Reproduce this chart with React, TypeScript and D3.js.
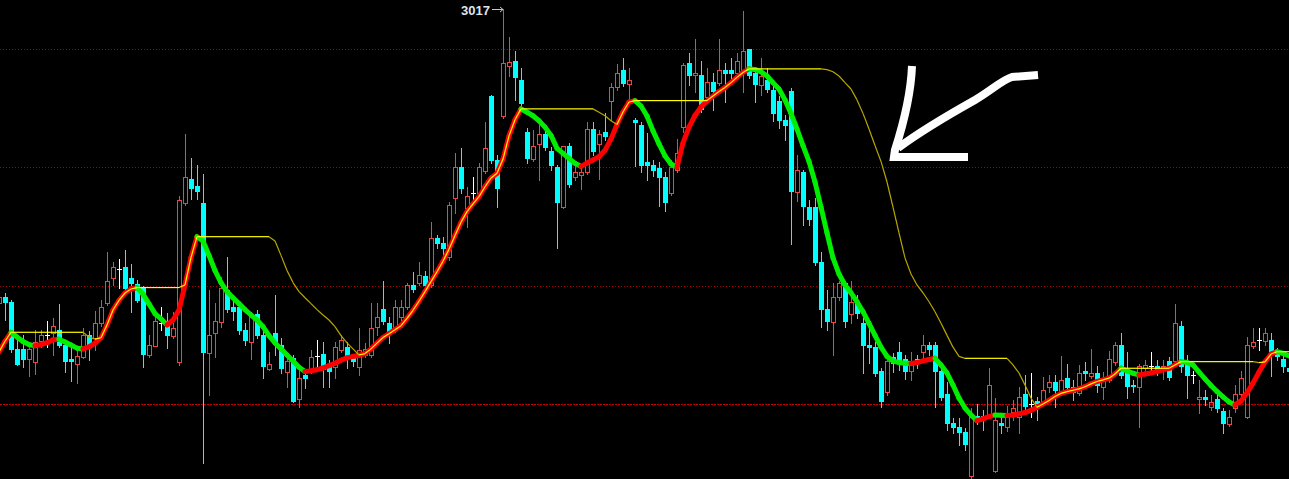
import React from "react";
import * as d3 from "d3";

const W = 1289;
const H = 479;

// OHLC prices per bar (oldest -> newest)
const opens = [2892.7,2895.2,2893.1,2873.2,2873.2,2869.0,2867.8,2876.6,2879.2,2880.0,2881.3,2874.9,2869.0,2866.9,2869.9,2879.2,2877.9,2884.2,2892.7,2903.2,2907.1,2907.9,2903.2,2900.7,2899.0,2870.7,2874.5,2884.2,2885.1,2878.7,2867.8,2934.9,2945.1,2942.1,2934.9,2871.6,2880.0,2884.7,2898.2,2891.0,2891.0,2881.3,2876.2,2888.0,2879.2,2864.8,2880.0,2874.9,2863.5,2869.4,2852.1,2862.3,2864.0,2870.3,2871.1,2865.6,2865.6,2872.8,2874.1,2869.4,2865.6,2870.7,2870.7,2882.5,2890.2,2884.2,2881.3,2886.8,2891.0,2900.3,2901.1,2904.1,2900.3,2920.2,2918.0,2912.1,2937.0,2950.1,2932.8,2939.2,2939.2,2948.5,2980.1,2953.1,2971.7,2992.8,2994.9,2986.9,2964.9,2953.5,2959.9,2964.1,2956.9,2950.1,2933.2,2959.0,2945.9,2946.8,2948.0,2966.2,2959.9,2964.9,2978.0,2983.9,2991.1,2985.2,2970.0,2967.9,2952.3,2951.0,2949.7,2945.9,2939.2,2948.9,2967.0,2994.1,2989.0,2989.0,2979.7,2986.1,2985.6,2991.1,2991.1,2989.9,2991.1,3000.0,2989.9,2984.8,2986.9,2982.7,2978.0,2970.0,2982.3,2939.6,2948.0,2933.2,2933.2,2910.0,2890.2,2884.7,2895.2,2901.1,2888.0,2893.1,2884.2,2874.9,2874.1,2864.0,2855.1,2869.9,2872.0,2869.0,2864.0,2869.0,2872.0,2874.9,2874.9,2864.0,2854.2,2842.0,2840.3,2838.2,2819.6,2844.9,2844.9,2845.4,2821.7,2842.0,2840.3,2846.6,2844.5,2854.2,2850.0,2851.3,2850.4,2857.2,2859.3,2855.5,2861.0,2857.2,2854.7,2864.0,2861.8,2863.1,2857.2,2860.2,2867.8,2874.9,2863.5,2858.0,2857.2,2865.2,2866.1,2866.1,2865.2,2868.2,2868.2,2883.0,2867.8,2862.3,2852.1,2853.0,2848.7,2852.1,2847.1,2841.6,2848.3,2854.2,2844.5,2874.5,2877.1,2876.6,2877.1,2872.0,2869.0,2865.2];
const highs = [2896.1,2896.9,2894.0,2878.3,2879.2,2875.8,2881.3,2881.3,2885.1,2886.3,2892.3,2877.1,2873.7,2874.1,2882.1,2880.9,2889.3,2894.0,2914.2,2910.0,2911.3,2915.1,2909.2,2902.4,2899.9,2879.2,2887.6,2891.0,2888.5,2888.9,2937.9,2964.1,2953.9,2951.0,2947.2,2898.2,2892.7,2903.7,2912.1,2894.8,2893.1,2884.2,2888.9,2889.7,2881.3,2872.0,2896.1,2877.9,2870.7,2870.7,2864.4,2864.4,2872.8,2877.1,2876.2,2868.6,2876.2,2879.2,2876.2,2871.1,2882.1,2875.8,2892.7,2892.7,2902.0,2886.8,2894.0,2894.0,2901.1,2905.8,2910.0,2906.2,2926.9,2921.4,2920.6,2935.4,2956.1,2958.2,2941.7,2945.9,2951.8,2969.2,2980.6,2955.2,3017.0,3005.1,2999.2,2992.0,2966.6,2965.8,2969.2,2966.6,2958.6,2951.0,2959.0,2960.3,2951.0,2949.7,2969.2,2969.2,2965.8,2973.0,2985.6,2993.7,2996.2,2992.0,2970.8,2969.2,2964.5,2953.1,2952.3,2948.0,2953.1,2962.0,2994.1,2998.3,3004.2,2994.9,2992.0,2989.9,3004.2,2994.1,2996.2,2998.3,3016.1,3000.0,2991.1,2996.2,2992.0,2984.4,2980.1,2972.1,2983.5,2955.2,2948.9,2936.2,2937.0,2914.2,2898.2,2901.1,2902.0,2902.0,2902.0,2896.1,2886.3,2882.1,2876.2,2865.2,2868.6,2871.6,2876.2,2870.7,2872.0,2870.7,2879.2,2876.2,2876.2,2865.2,2859.3,2844.1,2844.1,2839.9,2848.3,2850.0,2847.5,2865.2,2852.5,2845.8,2849.2,2851.7,2857.2,2862.3,2863.1,2853.0,2861.4,2862.3,2862.3,2870.3,2866.9,2860.2,2866.5,2867.8,2873.2,2866.1,2863.5,2872.4,2876.2,2880.0,2872.0,2860.2,2866.9,2868.6,2872.0,2868.6,2868.6,2869.9,2892.3,2885.1,2870.7,2864.0,2860.2,2855.9,2853.8,2854.7,2848.3,2847.5,2858.0,2864.0,2878.3,2882.1,2882.1,2882.1,2880.0,2873.7,2870.7,2866.5];
const lows = [2892.3,2885.5,2872.0,2866.5,2865.6,2861.8,2862.7,2874.1,2874.1,2870.7,2874.1,2863.5,2859.7,2858.9,2869.4,2868.6,2872.8,2883.0,2891.8,2900.3,2899.0,2898.2,2888.9,2893.1,2865.6,2869.9,2874.5,2881.3,2873.7,2877.9,2866.5,2934.1,2936.6,2936.6,2825.1,2853.8,2869.9,2882.5,2888.9,2885.5,2879.6,2874.9,2869.0,2877.9,2861.0,2864.4,2870.7,2863.1,2857.2,2850.9,2848.7,2856.8,2863.1,2864.4,2857.2,2857.2,2861.0,2872.0,2865.2,2866.1,2862.3,2869.9,2869.9,2879.2,2883.8,2875.8,2880.4,2885.5,2890.2,2897.3,2900.3,2899.0,2899.4,2915.9,2913.0,2910.9,2930.7,2939.2,2924.8,2936.6,2938.3,2947.6,2951.8,2933.2,2970.8,2988.6,2978.5,2975.9,2951.8,2952.7,2944.7,2957.3,2948.9,2915.9,2932.8,2941.7,2944.7,2940.9,2947.2,2955.2,2945.1,2961.6,2970.0,2982.7,2984.4,2978.5,2950.6,2948.0,2944.7,2946.3,2933.7,2931.6,2938.3,2948.0,2964.9,2984.8,2981.8,2973.4,2978.5,2974.2,2984.8,2977.6,2986.9,2988.6,2981.8,2987.7,2977.6,2980.6,2981.8,2969.6,2966.6,2961.6,2917.6,2935.8,2925.6,2925.6,2908.7,2882.5,2881.3,2870.7,2894.0,2882.5,2884.2,2886.3,2863.1,2867.3,2861.8,2848.7,2853.8,2863.5,2864.4,2860.6,2860.2,2865.2,2867.8,2870.7,2848.7,2851.7,2839.0,2837.8,2832.7,2830.6,2818.3,2841.6,2839.0,2844.1,2821.3,2837.8,2838.6,2843.3,2837.8,2847.9,2844.5,2843.3,2849.6,2855.1,2848.7,2853.8,2855.1,2851.7,2853.8,2860.2,2861.0,2855.1,2852.1,2859.3,2866.5,2861.0,2852.5,2855.1,2840.3,2863.5,2864.0,2862.3,2860.6,2860.2,2867.3,2863.5,2852.5,2858.9,2846.2,2849.6,2847.5,2846.6,2837.8,2840.7,2846.6,2853.4,2844.1,2873.7,2872.8,2874.9,2861.8,2868.6,2863.5,2861.8];
const closes = [2895.2,2892.7,2872.8,2866.5,2868.6,2873.2,2876.2,2879.2,2879.2,2883.0,2874.5,2867.8,2867.8,2870.3,2879.2,2874.5,2884.2,2891.0,2902.0,2907.9,2907.1,2898.6,2900.7,2893.5,2870.7,2874.9,2885.1,2884.2,2878.7,2882.1,2936.2,2945.9,2940.9,2939.6,2871.6,2879.2,2885.1,2899.0,2889.7,2888.9,2880.9,2876.6,2888.0,2878.7,2865.6,2866.9,2874.9,2864.8,2868.2,2850.9,2861.0,2860.6,2869.9,2870.3,2864.4,2863.5,2874.1,2877.1,2870.3,2867.8,2872.8,2873.2,2882.1,2886.8,2884.7,2880.0,2891.0,2891.0,2900.3,2898.2,2904.5,2899.9,2920.2,2917.6,2915.5,2934.1,2950.1,2940.9,2937.9,2939.2,2950.1,2958.2,2952.7,2940.9,2994.1,2994.5,2987.7,2976.8,2953.5,2959.0,2964.1,2958.2,2950.6,2934.9,2959.0,2942.5,2948.0,2948.0,2966.2,2956.5,2964.1,2962.8,2983.9,2989.9,2985.2,2986.9,2968.7,2950.6,2950.6,2948.5,2945.5,2934.9,2950.1,2956.1,2993.2,2988.6,2989.9,2974.2,2986.1,2981.8,2991.1,2989.4,2989.4,2994.9,2999.2,2988.6,2984.8,2988.6,2982.7,2972.5,2969.6,2967.5,2939.6,2948.9,2933.2,2927.8,2909.6,2889.7,2884.7,2895.2,2901.1,2884.7,2893.1,2888.0,2874.5,2873.7,2862.7,2850.9,2868.2,2866.9,2867.8,2863.5,2867.8,2866.9,2874.9,2872.8,2863.5,2852.5,2841.6,2839.9,2837.8,2832.7,2844.5,2843.3,2843.7,2858.0,2843.3,2840.7,2844.9,2848.3,2853.0,2848.7,2850.0,2850.0,2855.9,2859.3,2855.5,2860.2,2856.8,2854.7,2863.1,2862.7,2863.1,2857.6,2860.6,2869.0,2874.9,2861.8,2857.2,2857.2,2866.1,2866.5,2866.1,2864.4,2866.1,2861.0,2884.2,2865.6,2861.8,2862.3,2853.0,2851.7,2850.9,2847.9,2841.6,2844.5,2854.2,2861.0,2874.9,2876.2,2877.1,2880.0,2872.0,2869.9,2865.6,2863.5];

// smoothed trend line value per bar
const trendLine = [2872.0,2876.5,2880.3,2878.3,2876.4,2875.1,2874.6,2875.1,2875.9,2877.1,2877.4,2876.2,2874.9,2873.6,2873.3,2874.1,2875.7,2878.0,2883.4,2889.7,2893.8,2896.9,2898.6,2899.2,2896.4,2892.3,2888.2,2886.0,2883.4,2885.5,2889.7,2900.3,2911.9,2920.7,2918.9,2912.8,2906.4,2901.3,2897.5,2894.9,2892.4,2889.9,2887.6,2885.5,2882.7,2878.9,2875.8,2873.3,2870.7,2868.2,2865.5,2863.7,2864.0,2864.5,2865.2,2866.2,2867.2,2868.5,2869.5,2870.1,2870.6,2871.3,2873.3,2875.7,2878.1,2879.7,2881.4,2883.1,2886.2,2889.6,2893.4,2897.5,2901.7,2905.9,2910.3,2915.4,2921.2,2926.8,2931.3,2934.6,2937.6,2941.8,2945.5,2947.5,2953.5,2963.3,2970.1,2974.7,2973.3,2971.8,2969.7,2967.0,2963.5,2958.0,2955.9,2953.8,2951.7,2950.4,2951.8,2953.1,2954.5,2957.2,2962.0,2968.1,2973.4,2977.6,2978.2,2975.9,2971.7,2965.4,2959.9,2954.8,2951.4,2950.1,2960.3,2967.0,2971.9,2975.5,2978.0,2980.1,2982.0,2983.7,2985.8,2988.0,2990.1,2991.6,2991.3,2990.4,2988.6,2985.8,2983.1,2978.5,2972.8,2966.2,2959.2,2952.5,2943.8,2933.2,2922.3,2911.7,2904.9,2900.3,2897.0,2893.2,2889.0,2884.1,2879.0,2874.0,2870.1,2868.2,2867.5,2867.2,2867.1,2867.5,2868.2,2868.8,2869.3,2866.5,2863.1,2858.0,2852.5,2848.3,2845.4,2843.0,2843.7,2844.7,2845.4,2845.25,2845.1,2845.3,2845.8,2846.4,2847.3,2848.6,2850.0,2851.5,2853.2,2854.5,2855.2,2855.8,2856.4,2857.3,2858.5,2859.5,2860.2,2860.9,2862.7,2865.1,2864.0,2863.0,2862.3,2862.7,2863.1,2863.7,2864.4,2865.0,2866.5,2867.9,2867.5,2866.5,2863.5,2860.6,2857.8,2855.3,2853.0,2850.9,2849.6,2851.3,2854.7,2858.8,2863.5,2867.8,2871.1,2872.1,2871.4,2870.3];

const gridPrices = [3000, 2950, 2900];
const basePrice = 2850;
const HHV_PERIOD = 13;

// hand-drawn annotation arrow (screen annotation, not data)
const handArrowStrokes = [
  "M912,66 C911,92 904,122 895,150 L894,157 L968,157",
  "M898,148 C925,128 950,114 975,100 C992,90 1002,80 1012,77 L1038,75",
];

export default function App() {
  const n = opens.length;
  const x = d3.scaleLinear().domain([0, n - 1]).range([-1, -1 + 6 * (n - 1)]);
  const y = d3.scaleLinear().domain([2850, 3000]).range([404, 49]);

  const yellow = trendLine.map((_, i) =>
    d3.max(trendLine.slice(Math.max(0, i - HHV_PERIOD + 1), i + 1)) as number
  );

  const seg = d3
    .line<[number, number]>()
    .x((d) => x(d[0]))
    .y((d) => y(d[1]));

  const RED = "#f04444";
  const CYAN = "#00ffff";

  const candles = opens.map((o, i) => {
    const c = closes[i];
    const cx = Math.round(x(i));
    const yo = Math.round(y(o));
    const yc = Math.round(y(c));
    const yh = Math.round(y(highs[i]));
    const yl = Math.round(y(lows[i]));
    if (o === c) {
      return (
        <g key={i} stroke="#ffffff" shapeRendering="crispEdges">
          <line x1={cx + 0.5} x2={cx + 0.5} y1={yh} y2={yl + 1} />
          <line x1={cx - 2} x2={cx + 3} y1={yo + 0.5} y2={yo + 0.5} />
        </g>
      );
    }
    if (c > o) {
      return (
        <g key={i} stroke={RED} fill="none" shapeRendering="crispEdges">
          <line x1={cx + 0.5} x2={cx + 0.5} y1={yh} y2={yc} />
          <line x1={cx + 0.5} x2={cx + 0.5} y1={yo + 1} y2={yl + 1} />
          <rect x={cx - 1.5} y={yc + 0.5} width={4} height={Math.max(yo - yc, 1)} />
        </g>
      );
    }
    return (
      <g key={i} shapeRendering="crispEdges">
        <line x1={cx + 0.5} x2={cx + 0.5} y1={yh} y2={yl + 1} stroke={CYAN} />
        <rect x={cx - 2} y={yo} width={5} height={Math.max(yc - yo, 1)} fill={CYAN} />
      </g>
    );
  });

  const trendSegs = trendLine.slice(1).map((v, j) => {
    const i = j + 1;
    const up = v > trendLine[i - 1];
    return (
      <path
        key={i}
        d={seg([[i - 1, trendLine[i - 1]], [i, v]]) as string}
        stroke={up ? "#ff0000" : "#00ee00"}
        strokeWidth={5}
        strokeLinecap="round"
        fill="none"
      />
    );
  });

  const yellowSegs = yellow.slice(1).map((v, j) => {
    const i = j + 1;
    const down = v < yellow[i - 1];
    return (
      <path
        key={i}
        d={seg([[i - 1, yellow[i - 1]], [i, v]]) as string}
        stroke={down ? "#b8a800" : "#ffff00"}
        strokeWidth={1.2}
        fill="none"
      />
    );
  });

  const maxHigh = d3.max(highs) as number;
  const maxIdx = highs.indexOf(maxHigh);
  const tipX = Math.round(x(maxIdx));
  const tipY = Math.round(y(maxHigh)) + 0.5;
  const baseY = Math.round(y(basePrice)) + 0.5;

  return (
    <svg
      width={W}
      height={H}
      style={{ position: "fixed", left: 0, top: 0, display: "block" }}
    >
      <rect width={W} height={H} fill="#000000" />
      {gridPrices.map((p) => (
        <line
          key={p}
          x1={0}
          x2={W}
          y1={Math.round(y(p)) + 0.5}
          y2={Math.round(y(p)) + 0.5}
          stroke="#a00000"
          strokeDasharray="1 2"
          shapeRendering="crispEdges"
        />
      ))}
      <line
        x1={0}
        x2={W}
        y1={baseY}
        y2={baseY}
        stroke="#c80000"
        strokeDasharray="2 1"
        shapeRendering="crispEdges"
      />
      {candles}
      {trendSegs}
      {yellowSegs}
      <text
        x={tipX - 13}
        y={15}
        textAnchor="end"
        fontFamily="'Liberation Sans', Arial, sans-serif"
        fontWeight="bold"
        fontSize={13}
        fill="#dfe4ec"
      >
        {Math.round(maxHigh)}
      </text>
      <g stroke="#c8c8c8" strokeWidth={1} fill="none">
        <line x1={tipX - 11} x2={tipX} y1={tipY} y2={tipY} />
        <path d={`M${tipX - 3},${tipY - 2.5} L${tipX},${tipY} L${tipX - 3},${tipY + 2.5}`} />
      </g>
      <g stroke="#ffffff" strokeWidth={8} fill="none" strokeLinejoin="miter" strokeLinecap="butt">
        {handArrowStrokes.map((d, i) => (
          <path key={i} d={d} />
        ))}
      </g>
    </svg>
  );
}
